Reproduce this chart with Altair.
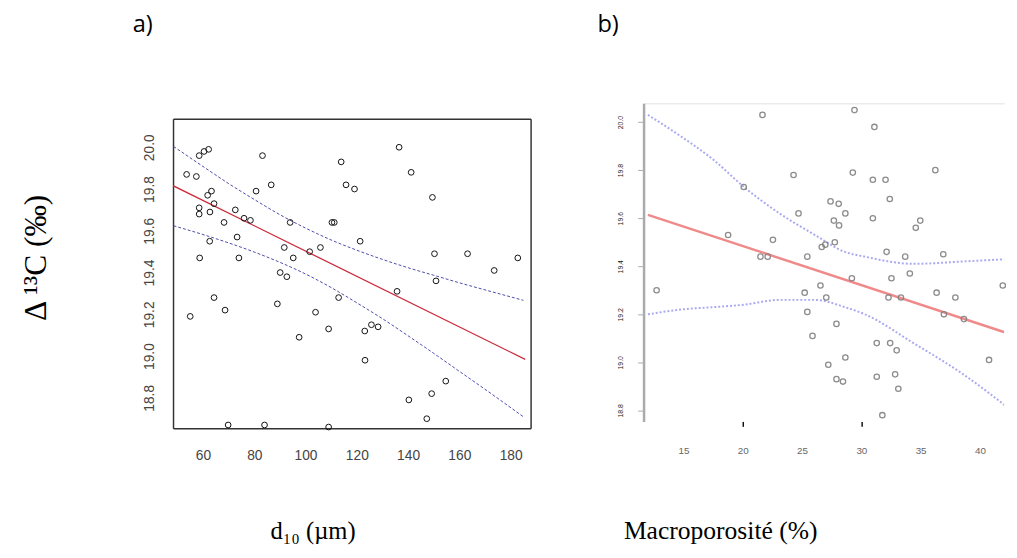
import altair as alt
import pandas as pd

# ---------------- Panel a : d10 (µm) vs Δ13C ----------------
a_x = [53.6, 55.0, 57.4, 58.5, 60.4, 62.2, 58.5, 58.5, 58.7, 61.8, 63.3, 62.7, 64.3,
       62.6, 64.3, 68.2, 68.6, 69.8, 72.6, 73.3, 74.0, 76.0, 78.5, 80.7, 83.2, 84.0,
       86.6, 89.0, 90.1, 91.7, 92.7, 94.0, 95.2, 97.5, 101.6, 103.9, 105.8, 109.0,
       109.0, 110.3, 111.2, 112.9, 113.9, 115.8, 119.1, 121.3, 123.1, 123.2, 125.7,
       128.3, 135.7, 136.5, 140.3, 141.2, 147.3, 149.2, 149.5, 150.3, 150.9, 154.7,
       163.2, 173.6, 182.8]
a_y = [19.87, 19.19, 19.86, 19.96, 19.98, 19.99, 19.71, 19.68, 19.47, 19.77, 19.79, 19.69, 19.73,
       19.55, 19.28, 19.64, 19.22, 18.67, 19.70, 19.57, 19.47, 19.66, 19.65, 19.79, 19.96, 18.67,
       19.82, 19.25, 19.40, 19.52, 19.38, 19.64, 19.47, 19.09, 19.50, 19.21, 19.52, 18.66,
       19.13, 19.64, 19.64, 19.28, 19.93, 19.82, 19.80, 19.55, 19.12, 18.98, 19.15,
       19.14, 19.31, 20.00, 18.79, 19.88, 18.70, 18.82, 19.76, 19.49, 19.36, 18.88,
       19.49, 19.41, 19.47]
a_fit_x = [48.3, 185.7]
a_fit_y = [19.816, 18.984]
a_ci_x = [48.5, 60, 70, 80, 90, 100, 110, 120, 130, 140, 150, 160, 170, 185]
a_ci_upper = [20.004, 19.908, 19.826, 19.750, 19.677, 19.613, 19.556, 19.507, 19.463,
              19.423, 19.387, 19.351, 19.317, 19.267]
a_ci_lower = [19.624, 19.582, 19.542, 19.498, 19.449, 19.393, 19.328, 19.255, 19.179,
              19.097, 19.013, 18.927, 18.841, 18.709]
a_xticks = [60, 80, 100, 120, 140, 160, 180]
a_yticks = [18.8, 19.0, 19.2, 19.4, 19.6, 19.8, 20.0]

# ---------------- Panel b : Macroporosité (%) vs Δ13C ----------------
b_x = [12.73, 18.76, 20.08, 21.66, 21.49, 22.10, 22.54, 24.28, 24.70, 25.44, 25.22, 25.44,
       25.88, 26.55, 26.66, 26.96, 27.04, 27.21, 27.40, 27.76, 27.68, 27.90, 27.90, 28.09,
       28.12, 28.45, 28.65, 28.65, 29.20, 29.28, 29.42, 30.97, 30.97, 31.10, 31.30, 31.30,
       31.77, 32.04, 32.13, 32.29, 32.40, 32.43, 32.54, 32.85, 32.98, 33.12, 33.34, 33.70,
       34.09, 34.59, 34.97, 36.24, 36.35, 36.91, 36.96, 37.93, 38.65, 40.77, 41.93]
b_y = [19.30, 19.53, 19.73, 20.03, 19.44, 19.44, 19.51, 19.78, 19.62, 19.44, 19.29, 19.21,
       19.11, 19.32, 19.48, 19.49, 19.27, 18.99, 19.67, 19.50, 19.59, 19.16, 18.93, 19.66,
       19.57, 18.92, 19.62, 19.02, 19.35, 19.79, 20.05, 19.76, 19.60, 19.98, 19.08, 18.94,
       18.78, 19.76, 19.46, 19.27, 19.68, 19.08, 19.35, 18.95, 19.05, 18.89, 19.27, 19.44,
       19.37, 19.56, 19.59, 19.80, 19.29, 19.45, 19.20, 19.27, 19.18, 19.01, 19.32]
b_fit_x = [12.0, 42.4]
b_fit_y = [19.614, 19.120]
b_ci_x = [12.0, 14.8, 17.6, 20.1, 23.1, 26.1, 28.6, 30.3, 34.4, 38.6, 42.4]
b_ci_upper = [20.03, 19.94, 19.84, 19.73, 19.62, 19.53, 19.46, 19.44, 19.41, 19.42, 19.43]
b_ci_lower = [19.20, 19.22, 19.23, 19.24, 19.26, 19.26, 19.23, 19.20, 19.08, 18.95, 18.81]
b_xticks = [15, 20, 25, 30, 35, 40]
b_yticks = [18.8, 19.0, 19.2, 19.4, 19.6, 19.8, 20.0]


def ci_frame(xs, up, lo):
    rows = [{"x": x, "y": y, "bound": "upper"} for x, y in zip(xs, up)]
    rows += [{"x": x, "y": y, "bound": "lower"} for x, y in zip(xs, lo)]
    return pd.DataFrame(rows)


FRAME = "#333333"

# ---------------- Panel a chart ----------------
# plot area is 331 px tall; the data/frame occupy the lower 315 px (range 16..331)
ax_x = alt.Axis(values=a_xticks, ticks=False, domain=True, domainColor=FRAME,
                domainWidth=1.5, grid=False,
                labelPadding=21, labelFontSize=14, labelColor="#444",
                labelFont="Liberation Sans", format="d",
                title="d₁₀ (µm)", titleFont="Liberation Serif", titleFontSize=25,
                titleFontWeight="normal", titleColor="black", titleX=142, titleY=112,
                titleAlign="center", titleBaseline="alphabetic")
ax_y = alt.Axis(values=a_yticks, ticks=False, domain=True, domainColor=FRAME,
                domainWidth=1.5, grid=False,
                labelPadding=17, labelFontSize=14, labelColor="#444",
                labelFont="Liberation Sans", format=".1f", labelAngle=270,
                title="Δ ¹³C (‰)", titleFont="Liberation Serif", titleFontSize=32,
                titleFontWeight="normal", titleColor="black", titleX=-130, titleY=157,
                titleAlign="center", titleBaseline="alphabetic", titleAngle=270)
ax_x_top = alt.Axis(orient="top", labels=False, ticks=False, grid=False, domain=True,
                    domainColor=FRAME, domainWidth=1.5, offset=-16, title=None)
ax_y_right = alt.Axis(orient="right", labels=False, ticks=False, grid=False, domain=True,
                      domainColor=FRAME, domainWidth=1.5, title=None)

sx_a = alt.Scale(domain=[48.3, 187.8], nice=False, zero=False)
sy_a = alt.Scale(domain=[18.654, 20.136], nice=False, zero=False, range=[331, 16])

pts_a = alt.Chart(pd.DataFrame({"x": a_x, "y": a_y})).mark_point(
    shape="circle", filled=False, color="#111", size=34, strokeWidth=1, opacity=1
).encode(x=alt.X("x:Q", scale=sx_a, axis=ax_x),
         y=alt.Y("y:Q", scale=sy_a, axis=ax_y))
ci_a = alt.Chart(ci_frame(a_ci_x, a_ci_upper, a_ci_lower)).mark_line(
    color="#4a4aa8", strokeWidth=1, strokeDash=[3, 2], clip=True, interpolate="monotone"
).encode(x=alt.X("x:Q", scale=sx_a, axis=None),
         y=alt.Y("y:Q", scale=sy_a, axis=None),
         detail="bound:N")
fit_a = alt.Chart(pd.DataFrame({"x": a_fit_x, "y": a_fit_y})).mark_line(
    color="#cc2b3b", strokeWidth=1.3, clip=True
).encode(x=alt.X("x:Q", scale=sx_a, axis=ax_x_top),
         y=alt.Y("y:Q", scale=sy_a, axis=ax_y_right))

panel_a = alt.layer(ci_a, fit_a, pts_a).resolve_axis(
    x="independent", y="independent"
).properties(
    width=364, height=331,
    view=alt.ViewBackground(stroke="transparent"),
    title=alt.TitleParams("a)", anchor="start", dx=-41, offset=48, fontSize=24,
                          font="Open Sans", fontWeight="normal", baseline="alphabetic",
                          color="black", frame="group"),
)

# ---------------- Panel b chart ----------------
bx_axis = alt.Axis(values=b_xticks, domain=False, grid=False,
                   ticks=True, tickSize=5, tickWidth=1.5,
                   tickColor={"condition": {"test": "datum.value == 20 || datum.value == 30",
                                            "value": "#111"}, "value": "transparent"},
                   labelPadding=20, labelFontSize=10, labelColor="#666",
                   labelFont="Liberation Sans", format="d",
                   title="Macroporosité (%)", titleFont="Liberation Serif", titleFontSize=26,
                   titleFontWeight="normal", titleColor="black", titleX=78, titleY=119,
                   titleAlign="center", titleBaseline="alphabetic")
bx_top = alt.Axis(orient="top", labels=False, ticks=False, grid=False, domain=True,
                  domainColor="#ebebeb", domainWidth=1.5, title=None)
by_axis = alt.Axis(values=b_yticks, domain=True, domainColor="#aaa", domainWidth=2.5,
                   ticks=True, tickColor="#aaa", tickSize=6, tickWidth=1, grid=False,
                   labelPadding=14, labelFontSize=7, labelColor="#222",
                   labelFont="Liberation Sans", format=".1f", labelAngle=270, title=None)
sx_b = alt.Scale(domain=[11.63, 42.04], nice=False, zero=False)
sy_b = alt.Scale(domain=[18.754, 20.079], nice=False, zero=False)

pts_b = alt.Chart(pd.DataFrame({"x": b_x, "y": b_y})).mark_point(
    shape="circle", filled=False, color="#808080", size=30, strokeWidth=1.3, opacity=0.9
).encode(x=alt.X("x:Q", scale=sx_b, axis=bx_axis),
         y=alt.Y("y:Q", scale=sy_b, axis=by_axis))
ci_b = alt.Chart(ci_frame(b_ci_x, b_ci_upper, b_ci_lower)).mark_line(
    color="#a9a9f0", strokeWidth=2, strokeDash=[2, 2], clip=True, interpolate="monotone"
).encode(x=alt.X("x:Q", scale=sx_b, axis=None),
         y=alt.Y("y:Q", scale=sy_b, axis=None),
         detail="bound:N")
fit_b = alt.Chart(pd.DataFrame({"x": b_fit_x, "y": b_fit_y})).mark_line(
    color="#f08a8a", strokeWidth=2.5, clip=True
).encode(x=alt.X("x:Q", scale=sx_b, axis=bx_top),
         y=alt.Y("y:Q", scale=sy_b, axis=None))

panel_b = alt.layer(ci_b, fit_b, pts_b).resolve_axis(
    x="independent", y="independent"
).properties(
    width=367, height=324,
    view=alt.ViewBackground(stroke="transparent"),
    title=alt.TitleParams("b)", anchor="start", dx=-47, offset=48, fontSize=24,
                          font="Open Sans", fontWeight="normal", baseline="alphabetic",
                          color="black", frame="group"),
)

chart = alt.hconcat(panel_a, panel_b, spacing=66).properties(
    padding={"left": 11, "top": 0, "right": 0, "bottom": 0},
    background="white",
)

chart.save("out.html", embed_options={"renderer": "svg", "actions": False})
